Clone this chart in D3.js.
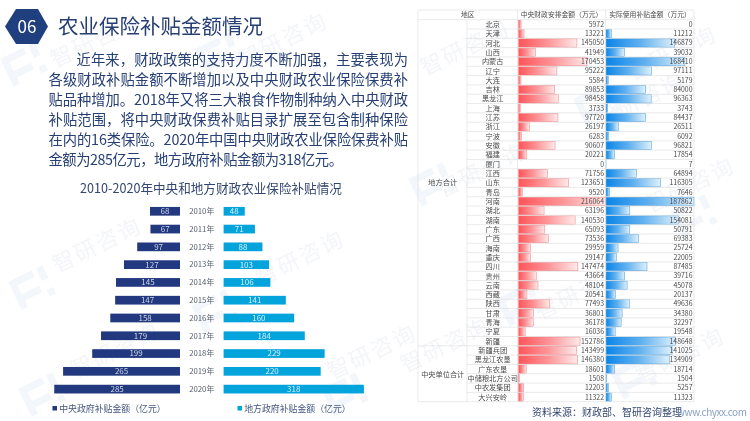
<!DOCTYPE html>
<html lang="zh"><head><meta charset="utf-8">
<script src="https://cdn.jsdelivr.net/npm/d3@7/dist/d3.min.js"></script>
<style>html,body{margin:0;padding:0;background:#fff}svg{display:block;filter:blur(0.35px)}text{font-family:"Noto Sans CJK SC","Noto Sans",sans-serif}</style>
</head><body><svg id="c" width="750" height="421"></svg>
<script>
const years=["2010年","2011年","2012年","2013年","2014年","2015年","2016年","2017年","2018年","2019年","2020年"];
const centralGov=[68,67,97,127,145,147,158,179,199,265,285];
const localGov=[48,71,88,103,106,141,160,184,229,220,318];
const regions=["北京","天津","河北","山西","内蒙古","辽宁","大连","吉林","黑龙江","上海","江苏","浙江","宁波","安徽","福建","厦门","江西","山东","青岛","河南","湖北","湖南","广东","广西","海南","重庆","四川","贵州","云南","西藏","陕西","甘肃","青海","宁夏","新疆","新疆兵团","黑龙江农垦","广东农垦","中储粮北方公司","中农发集团","大兴安岭"];
const allocated=[5972,13221,145050,41949,170453,95222,5584,89853,98458,3733,97720,26197,6283,90607,20221,0,71756,123651,9520,216064,63196,140530,65093,73536,29959,29147,147474,43664,48104,20541,77493,36801,36178,16036,152786,143499,146380,18601,1508,12203,11322];
const used=[0,11212,146879,39032,168410,97111,5179,84000,96363,3743,84437,26511,6092,96821,17854,7,64894,116305,7646,187862,50822,154081,50791,69383,25724,22005,87485,39716,45078,20137,49636,34380,32297,19548,148648,141025,134909,18714,1504,5257,11323];
const paragraph=["近年来，财政政策的支持力度不断加强，主要表现为","各级财政补贴金额不断增加以及中央财政农业保险保费补","贴品种增加。2018年又将三大粮食作物制种纳入中央财政","补贴范围，将中央财政保费补贴目录扩展至包含制种保险","在内的16类保险。2020年中国中央财政农业保险保费补贴","金额为285亿元，地方政府补贴金额为318亿元。"];
const lineStart=[76.5,48.5,48.5,48.5,48.5,48.5], lineEnd=[408,408,408,408,408,343];
const wmText=[[95,40],[283,40],[97,245],[300,258],[115,350],[372,352],[465,48],[672,53],[482,170],[690,185],[445,345],[580,292],[680,355],[640,100]];
const wmLogo=[[22,65],[217,55],[30,288],[213,312],[40,395],[343,395],[595,105],[430,185],[692,217],[518,305],[632,378]];

const NAVY="#22397f",CYAN="#03a3dc",TXT="#263f74";
const svg=d3.select("#c");
const defs=svg.append("defs");
function grad(id,stops){const g=defs.append("linearGradient").attr("id",id);
 stops.forEach((c,i)=>g.append("stop").attr("offset",i/(stops.length-1)).attr("stop-color",c));}
grad("gr",["#ff5458","#ff9497","#ffeaea"]);grad("gb",["#0a85e8","#5fb0ef","#dff0fb"]);

// watermark
const wm=svg.append("g");
wm.selectAll("text").data(wmText).join("text").attr("transform",d=>`translate(${d[0]},${d[1]}) rotate(-26)`)
 .attr("text-anchor","middle").attr("dy","0.35em").attr("font-size",22).attr("letter-spacing",2).attr("fill","#f3f5f9").text("智研咨询");
wm.selectAll("g").data(wmLogo).join("g").attr("transform",d=>`translate(${d[0]},${d[1]}) rotate(-26)`)
 .append("path").attr("d","M-17-15H9V-8H-10V2H9V9H-10V16H-17ZM14-15H21V-1H14ZM14 9H21V16H14Z").attr("fill","#f3f6fa");

// header
svg.append("path").attr("d",d3.line()([[5,26.5],[16,9],[38,9],[48,26.5],[38,44],[16,44]])+"Z").attr("fill","#1f3f7e");
svg.append("text").attr("x",27).attr("y",32.5).attr("text-anchor","middle").attr("font-size",17).attr("fill","#fff").text("06");
svg.append("text").attr("x",58).attr("y",34).attr("font-size",20.5).attr("fill",TXT).text("农业保险补贴金额情况");

svg.append("g").selectAll("text").data(paragraph).join("text")
 .attr("x",(d,i)=>lineStart[i]).attr("y",(d,i)=>64.5+i*20.1).attr("font-size",14.3).attr("fill",TXT)
 .attr("textLength",(d,i)=>lineEnd[i]-lineStart[i]).attr("lengthAdjust","spacing").text(d=>d);
svg.append("text").attr("x",211).attr("y",192.5).attr("text-anchor","middle").attr("font-size",12.6).attr("fill","#33466f").text("2010-2020年中央和地方财政农业保险补贴情况");

// butterfly chart
const y=d3.scaleBand().domain(years).range([202.4,398]).paddingInner(0.51).paddingOuter(0.255);
const k=d3.scaleLinear().domain([0,318]).range([0,140.3]);
const rowC=d=>y(d)+y.bandwidth()/2;
const b=svg.append("g");
b.selectAll("rect.c").data(years).join("rect").attr("class","c").attr("x",(d,i)=>180-k(centralGov[i])).attr("y",d=>y(d)).attr("width",(d,i)=>k(centralGov[i])).attr("height",y.bandwidth()).attr("fill",NAVY);
b.selectAll("rect.l").data(years).join("rect").attr("class","l").attr("x",223.6).attr("y",d=>y(d)).attr("width",(d,i)=>k(localGov[i])).attr("height",y.bandwidth()).attr("fill",CYAN);
b.selectAll("text.y").data(years).join("text").attr("class","y").attr("x",201.7).attr("y",rowC).attr("dy","0.36em").attr("text-anchor","middle").attr("font-size",7.8).attr("fill","#59606e").text(d=>d);
b.selectAll("text.vc").data(years).join("text").attr("class","vc").attr("x",(d,i)=>180-k(centralGov[i])/2).attr("y",rowC).attr("dy","0.36em").attr("text-anchor","middle").attr("font-size",8).attr("fill","#cfd6e6").text((d,i)=>centralGov[i]);
b.selectAll("text.vl").data(years).join("text").attr("class","vl").attr("x",(d,i)=>223.6+k(localGov[i])/2).attr("y",rowC).attr("dy","0.36em").attr("text-anchor","middle").attr("font-size",8).attr("fill","#d6f0fa").text((d,i)=>localGov[i]);
[[52.5,NAVY,"中央政府补贴金额（亿元）"],[237.5,CYAN,"地方政府补贴金额（亿元）"]].forEach(([x,c,t])=>{
 svg.append("rect").attr("x",x).attr("y",406).attr("width",4.5).attr("height",4.5).attr("fill",c);
 svg.append("text").attr("x",x+6.7).attr("y",411.6).attr("font-size",8.9).attr("fill","#44557f").text(t);
});

// table
const colX=[418,467,517.5,605.7,694],tblTop=10,head=19.7,bot=401.7;
const ry=d3.scaleBand().domain(d3.range(regions.length)).range([head,bot]);
const rScale=d3.scaleLinear().domain([0,216064]).range([0,86.7]);
const uScale=d3.scaleLinear().domain([0,187862]).range([0,88]);
const h=ry.bandwidth(),t=svg.append("g");
t.selectAll("rect.a").data(allocated).join("rect").attr("class","a").attr("x",518.7).attr("y",(d,i)=>ry(i)+.5).attr("width",d=>rScale(d)).attr("height",h-1).attr("fill","url(#gr)").attr("stroke","#f0797c").attr("stroke-width",.5);
t.selectAll("rect.u").data(used).join("rect").attr("class","u").attr("x",606).attr("y",(d,i)=>ry(i)+.5).attr("width",d=>uScale(d)).attr("height",h-1).attr("fill","url(#gb)").attr("stroke","#3b97de").attr("stroke-width",.5);
const grid=t.append("g").attr("stroke","#dcdcdc").attr("stroke-width",.6);
d3.range(regions.length+1).forEach(i=>grid.append("line").attr("x1",i==35||i==0||i==regions.length?colX[0]:colX[1]).attr("x2",colX[4]).attr("y1",ry.step()*i+head).attr("y2",ry.step()*i+head));
grid.append("line").attr("x1",colX[0]).attr("x2",colX[4]).attr("y1",tblTop).attr("y2",tblTop);
colX.forEach((x,i)=>grid.append("line").attr("x1",x).attr("x2",x).attr("y1",i==1?head:tblTop).attr("y2",bot));
const tc="#4a4a4a",fs=7.2;
t.selectAll("text.h").data([["地区",467.7],["中央财政安排金额（万元）",561.5],["实际使用补贴金额（万元）",650]]).join("text").attr("class","h").attr("x",d=>d[1]).attr("y",15).attr("dy","0.36em").attr("text-anchor","middle").attr("font-size",6.8).attr("fill",tc).text(d=>d[0]);
t.selectAll("text.r").data(regions).join("text").attr("class","r").attr("x",492.7).attr("y",(d,i)=>ry(i)+h/2).attr("dy","0.36em").attr("text-anchor","middle").attr("font-size",fs).attr("fill",tc).text(d=>d);
t.selectAll("text.a").data(allocated).join("text").attr("class","a").attr("x",604).attr("y",(d,i)=>ry(i)+h/2).attr("dy","0.36em").attr("text-anchor","end").attr("font-size",6.9).attr("fill",tc).text(d=>d);
t.selectAll("text.u").data(used).join("text").attr("class","u").attr("x",692.5).attr("y",(d,i)=>ry(i)+h/2).attr("dy","0.36em").attr("text-anchor","end").attr("font-size",6.9).attr("fill",tc).text(d=>d);
t.selectAll("text.g").data([["地方合计",182.7],["中央单位合计",374]]).join("text").attr("class","g").attr("x",442.7).attr("y",d=>d[1]).attr("dy","0.36em").attr("text-anchor","middle").attr("font-size",fs).attr("fill",tc).text(d=>d[0]);

svg.append("text").attr("x",532).attr("y",415.5).attr("font-size",10).attr("fill","#33466f").text("资料来源：财政部、智研咨询整理");
svg.append("text").attr("x",677).attr("y",415.5).attr("font-size",10).attr("fill","#8a9fc2").attr("textLength",70).text("www.chyxx.com");
</script></body></html>
